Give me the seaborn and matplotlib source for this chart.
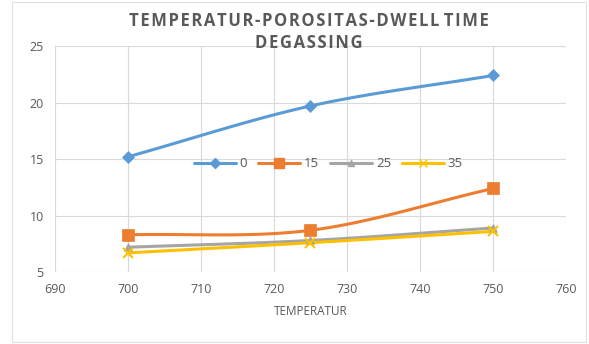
import numpy as np
import pandas as pd
import matplotlib
matplotlib.use("Agg")
import matplotlib.pyplot as plt
import seaborn as sns

# Porosity vs. degassing temperature for each dwell time
temperatur = [700, 725, 750]
dwell_0 = [15.2, 19.7, 22.4]
dwell_15 = [8.3, 8.7, 12.4]
dwell_25 = [7.2, 7.8, 8.9]
dwell_35 = [6.7, 7.6, 8.6]
series_labels = ["0", "15", "25", "35"]

colors = ["#5B9BD5", "#ED7D31", "#A5A5A5", "#FFC000"]
markers = ["D", "s", "^", "x"]
msizes = [6, 8, 6, 7]

sns.set_theme(style="white")
plt.rcParams["font.family"] = ["Open Sans", "DejaVu Sans"]

df = pd.DataFrame({
    "TEMPERATUR": temperatur * 4,
    "POROSITAS": dwell_0 + dwell_15 + dwell_25 + dwell_35,
    "DWELL": sum([[s] * len(temperatur) for s in series_labels], []),
})


def smooth(x, y, n=40):
    """Catmull-Rom curve through the points, like a smoothed line chart."""
    x = np.asarray(x, float)
    y = np.asarray(y, float)
    pts = np.column_stack([x, y])
    ext = np.vstack([2 * pts[0] - pts[1], pts, 2 * pts[-1] - pts[-2]])
    out = []
    for i in range(1, len(ext) - 2):
        p0, p1, p2, p3 = ext[i - 1], ext[i], ext[i + 1], ext[i + 2]
        t = np.linspace(0, 1, n)[:, None]
        seg = 0.5 * ((2 * p1) + (-p0 + p2) * t
                     + (2 * p0 - 5 * p1 + 4 * p2 - p3) * t ** 2
                     + (-p0 + 3 * p1 - 3 * p2 + p3) * t ** 3)
        out.append(seg)
    c = np.vstack(out)
    return c[:, 0], c[:, 1]


fig = plt.figure(figsize=(5.89, 3.44), dpi=100)
ax = fig.add_axes([0.093, 0.209, 0.868, 0.657])

for lab, col, mk, ms in zip(series_labels, colors, markers, msizes):
    sub = df[df["DWELL"] == lab]
    sx, sy = smooth(sub["TEMPERATUR"], sub["POROSITAS"])
    ax.plot(sx, sy, color=col, lw=2.2, zorder=2)
    sns.lineplot(data=sub, x="TEMPERATUR", y="POROSITAS", ax=ax,
                 color=col, marker=mk, markersize=ms, linestyle="none",
                 markeredgecolor=col, markeredgewidth=1.5 if mk == "x" else 0.5,
                 zorder=3)
    ax.plot([], [], color=col, lw=2.2, marker=mk, markersize=ms - 1,
            markeredgecolor=col, label=lab)

ax.set_xlim(690, 760)
ax.set_ylim(5, 25)
ax.set_xticks(np.arange(690, 761, 10))
ax.set_yticks(np.arange(5, 26, 5))
ax.grid(True, color="#D9D9D9", lw=0.8)
for s in ax.spines.values():
    s.set_visible(False)
ax.tick_params(axis="both", length=0, labelsize=9, colors="#595959", pad=8)
ax.set_xlabel("TEMPERATUR", fontsize=8.5, color="#595959", labelpad=6)
ax.set_ylabel("")

leg = ax.legend(loc="center", bbox_to_anchor=(0.535, 0.48), ncol=4, frameon=False,
                fontsize=9.5, handlelength=3.2, columnspacing=0.8, handletextpad=0.3)
for t in leg.get_texts():
    t.set_color("#595959")

# letter-spaced title
hs = "\u200a"
line1 = hs.join("TEMPERATUR-POROSITAS-DWELL") + " " + hs.join("TIME")
line2 = hs.join("DEGASSING")
fig.text(0.525, 0.965, line1 + "\n" + line2,
         ha="center", va="top", fontsize=12, fontweight="bold", color="#595959",
         linespacing=1.25)

fig.patches.append(plt.Rectangle((0.02, 0.005), 0.975, 0.99, transform=fig.transFigure,
                                 fill=False, edgecolor="#E0E0E0", lw=0.8))

fig.savefig("out.png", dpi=100, facecolor="white")
